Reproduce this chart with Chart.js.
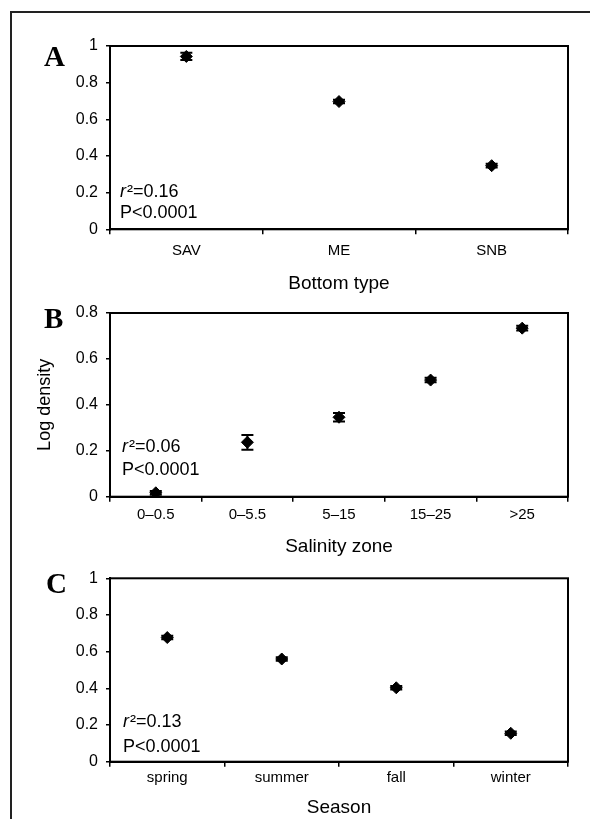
<!DOCTYPE html>
<html><head><meta charset="utf-8">
<script src="https://cdn.jsdelivr.net/npm/chart.js@4"></script>
<style>
html,body{margin:0;padding:0;background:#fff;}
body{width:590px;height:819px;position:relative;overflow:hidden;}
#frame{position:absolute;left:10px;top:11px;width:620px;height:840px;border-left:2px solid #222;border-top:2px solid #222;}
canvas{position:absolute;left:0;}
</style></head><body>
<div id="frame"></div>
<canvas id="ca" width="590" height="300" style="top:0px"></canvas>
<canvas id="cb" width="590" height="300" style="top:265px"></canvas>
<canvas id="cc" width="590" height="289" style="top:530px"></canvas>
<script>
// ---- data ----
const bottomTypes = ['SAV', 'ME', 'SNB'];
const bottomMeans = [0.943, 0.697, 0.347];
const bottomErrs  = [0.02, 0.01, 0.01];

const salinityZones = ['0–0.5', '0–5.5', '5–15', '15–25', '>25'];
const salinityMeans = [0.017, 0.237, 0.346, 0.508, 0.734];
const salinityErrs  = [0.008, 0.032, 0.018, 0.01, 0.01];

const seasons     = ['spring', 'summer', 'fall', 'winter'];
const seasonMeans = [0.677, 0.56, 0.403, 0.155];
const seasonErrs  = [0.01, 0.01, 0.01, 0.01];

const yTickLabels1  = ['0', '0.2', '0.4', '0.6', '0.8', '1'];
const yTickLabels08 = ['0', '0.2', '0.4', '0.6', '0.8'];

const panelLetters = ['A', 'B', 'C'];
const xTitles = ['Bottom type', 'Salinity zone', 'Season'];
const yTitle = 'Log density';
const r2Values = ['0.16', '0.06', '0.13'];
const pTexts = ['P<0.0001', 'P<0.0001', 'P<0.0001'];

// ---- plugins ----
const SANS = '"Liberation Sans", Arial, sans-serif';

const errorBarPlugin = {
  id: 'errorBars',
  afterDatasetsDraw(chart) {
    const ctx = chart.ctx;
    const ys = chart.scales.y, xs = chart.scales.x;
    chart.data.datasets.forEach(ds => {
      if (!ds.errors) return;
      ctx.save();
      ctx.strokeStyle = '#000';
      ctx.lineWidth = 2;
      ds.data.forEach((v, i) => {
        const e = ds.errors[i];
        const x = xs.getPixelForValue(i);
        const yTop = ys.getPixelForValue(v + e);
        const yBot = ys.getPixelForValue(v - e);
        ctx.beginPath();
        ctx.moveTo(x, yTop); ctx.lineTo(x, yBot);
        ctx.moveTo(x - 6, yTop); ctx.lineTo(x + 6, yTop);
        ctx.moveTo(x - 6, yBot); ctx.lineTo(x + 6, yBot);
        ctx.stroke();
      });
      ctx.restore();
    });
  }
};

const framePlugin = {
  id: 'plotFrame',
  afterDraw(chart, args, opts) {
    const ctx = chart.ctx, a = chart.chartArea;
    ctx.save();
    ctx.strokeStyle = '#000';
    ctx.lineWidth = 2;
    ctx.strokeRect(a.left, a.top, a.right - a.left, a.bottom - a.top);
    // panel letter
    ctx.fillStyle = '#000';
    ctx.font = 'bold 29px "Liberation Serif", "Times New Roman", serif';
    ctx.textBaseline = 'alphabetic';
    ctx.textAlign = 'left';
    ctx.fillText(opts.letter, opts.letterX, a.top + opts.letterDy);
    // stats text
    const x0 = a.left + opts.statDx;
    ctx.font = 'italic 18px ' + SANS;
    ctx.fillText('r', x0, a.bottom - opts.r2Dy);
    const rw = ctx.measureText('r').width;
    ctx.font = '18px ' + SANS;
    ctx.fillText('²=' + opts.r2, x0 + rw + 1, a.bottom - opts.r2Dy);
    ctx.fillText(opts.p, x0, a.bottom - opts.pDy);
    ctx.restore();
  }
};

function makeChart(id, labels, means, errs, yMax, yLabels, o) {
  const canvas = document.getElementById(id);
  const H = canvas.height;
  return new Chart(canvas, {
    type: 'line',
    data: {
      labels: labels,
      datasets: [{
        data: means,
        errors: errs,
        showLine: false,
        pointStyle: 'rectRot',
        pointRadius: 6,
        pointHoverRadius: 6,
        pointBackgroundColor: '#000',
        pointBorderColor: '#000',
        pointBorderWidth: 1
      }]
    },
    options: {
      responsive: false,
      animation: false,
      events: [],
      layout: { padding: { top: o.top, right: 22, left: 0, bottom: 0 } },
      plugins: {
        legend: { display: false },
        tooltip: { enabled: false },
        plotFrame: o.frame
      },
      scales: {
        x: {
          type: 'category',
          offset: true,
          grid: { offset: true, drawOnChartArea: false, drawTicks: true, tickLength: 5, color: '#000', lineWidth: 1.5 },
          border: { display: true, color: '#000', width: 2 },
          ticks: { color: '#000', font: { family: SANS, size: 15 }, padding: o.xTickPad, maxRotation: 0, autoSkip: false },
          title: { display: true, text: o.xTitle, color: '#000', font: { family: SANS, size: 19 }, padding: { top: 0, bottom: o.xTitlePad } },
          afterFit: s => { s.height = H - o.bottom; }
        },
        y: {
          min: 0,
          max: yMax,
          ticks: { stepSize: 0.2, color: '#000', font: { family: SANS, size: 16 }, padding: 8,
                   callback: (v, i) => yLabels[i] },
          grid: { drawOnChartArea: false, drawTicks: true, tickLength: 4, color: '#000', lineWidth: 1.5 },
          border: { display: true, color: '#000', width: 2 },
          title: { display: !!o.yTitle, text: o.yTitle || '', color: '#000', font: { family: SANS, size: 18 }, padding: { top: 34.6, bottom: 0 } },
          afterFit: s => { s.width = 110; }
        }
      }
    },
    plugins: [errorBarPlugin, framePlugin]
  });
}

makeChart('ca', bottomTypes, bottomMeans, bottomErrs, 1, yTickLabels1, {
  top: 46, bottom: 229.3, xTickPad: 8, xTitle: xTitles[0], xTitlePad: 4.6,
  frame: { letter: panelLetters[0], letterX: 44, letterDy: 20, statDx: 10, r2Dy: 32.6, pDy: 11, r2: r2Values[0], p: pTexts[0] }
});
makeChart('cb', salinityZones, salinityMeans, salinityErrs, 0.8, yTickLabels08, {
  top: 48, bottom: 231.7, xTickPad: 4, xTitle: xTitles[1], xTitlePad: 6.9, yTitle: yTitle,
  frame: { letter: panelLetters[1], letterX: 44, letterDy: 14.7, statDx: 12, r2Dy: 44.4, pDy: 21.7, r2: r2Values[1], p: pTexts[1] }
});
makeChart('cc', seasons, seasonMeans, seasonErrs, 1, yTickLabels1, {
  top: 48.3, bottom: 231.7, xTickPad: 2, xTitle: xTitles[2], xTitlePad: 0.3,
  frame: { letter: panelLetters[2], letterX: 46, letterDy: 15, statDx: 13, r2Dy: 34.4, pDy: 10, r2: r2Values[2], p: pTexts[2] }
});
</script>
</body></html>
